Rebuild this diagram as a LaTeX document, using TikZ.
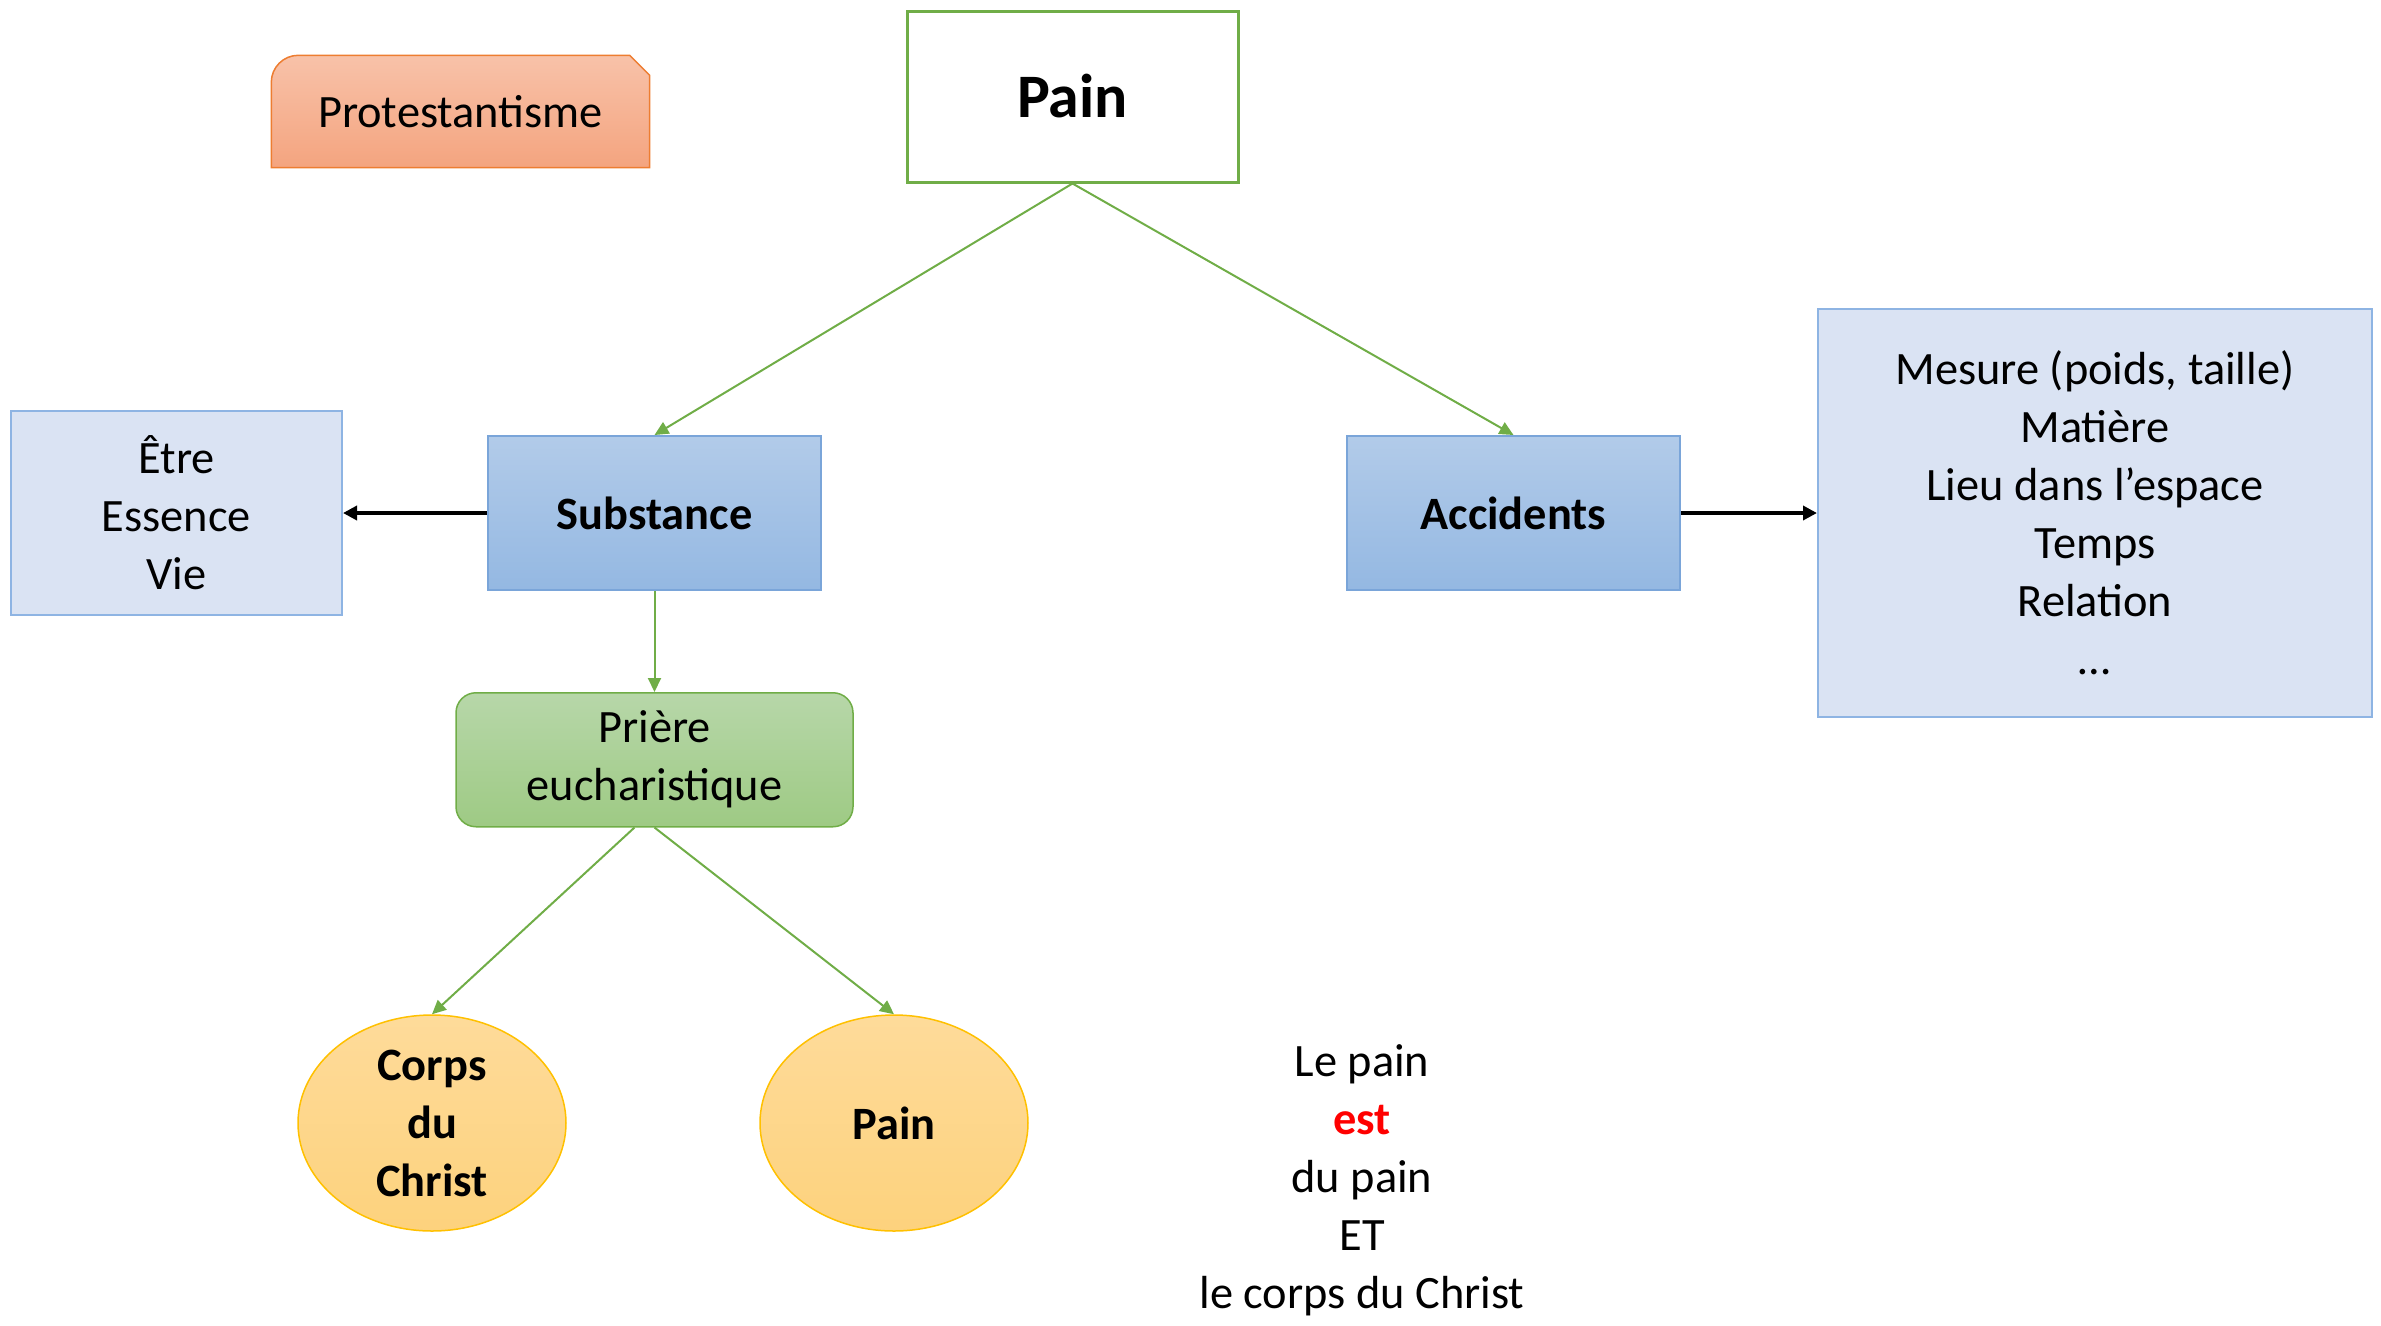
\documentclass[tikz,border=0pt]{standalone}
\usepackage{fontspec}
\setmainfont{Carlito}
\usepackage{xcolor}
\usetikzlibrary{shapes.geometric, arrows.meta, positioning, backgrounds}
\definecolor{leafgreen}{HTML}{70AD47}
\definecolor{mainline}{HTML}{7AA5D9}
\definecolor{maintop}{HTML}{B2CBE9}
\definecolor{mainbottom}{HTML}{94B8E2}
\definecolor{listline}{HTML}{8EB4E3}
\definecolor{listfill}{HTML}{DAE3F3}
\definecolor{prayertop}{HTML}{B7D7A9}
\definecolor{prayerbottom}{HTML}{9ECA84}
\definecolor{goldline}{HTML}{FFC000}
\definecolor{goldtop}{HTML}{FEDB9A}
\definecolor{goldbottom}{HTML}{FDD27D}
\definecolor{tagline}{HTML}{ED7D31}
\definecolor{tagtop}{HTML}{F8C2A9}
\definecolor{tagbottom}{HTML}{F4A47F}
\newcommand{\bodyfont}{\fontsize{13.2}{16.5}\selectfont}
\tikzset{
    breadbox/.style={rectangle, draw=leafgreen, line width=0.3mm, fill=white, minimum width=33.1mm, minimum height=17.1mm, font=\fontsize{17.6}{21}\selectfont\bfseries},
    tag/.style={rectangle, minimum width=37.7mm, minimum height=11.1mm, yshift=-0.6mm},
    tagshape/.style={draw=tagline, line width=0.15mm, top color=tagtop, bottom color=tagbottom},
    mainbox/.style={rectangle, draw=mainline, line width=0.2mm, top color=maintop, bottom color=mainbottom, minimum width=33.3mm, minimum height=15.4mm, font=\bodyfont\bfseries},
    listbox/.style={rectangle, draw=listline, line width=0.2mm, fill=listfill, align=center},
    prayer/.style={rectangle, rounded corners=2mm, draw=leafgreen, line width=0.15mm, top color=prayertop, bottom color=prayerbottom, minimum width=39.7mm, minimum height=13.4mm, align=center},
    outcome/.style={ellipse, draw=goldline, line width=0.15mm, top color=goldtop, bottom color=goldbottom, minimum width=26.8mm, minimum height=21.6mm, inner ysep=-2mm, align=center, font=\bodyfont\bfseries},
    arrow/.style={-{Triangle[length=1.4mm, width=1.3mm]}, draw=leafgreen, line width=0.2mm},
    link/.style={-{Triangle[length=1.4mm, width=1.4mm]}, line width=0.4mm}
}

\begin{document}
\begin{tikzpicture}[x=0.1mm, y=-0.1mm, font=\bodyfont]
    \useasboundingbox (0,0) rectangle (2381,1326);
    \node (bread) [breadbox] at (1072.5,96.5) {Pain};
    \node (prot) [tag] at (460.5,105.5) {Protestantisme};
    \node (subst) [mainbox] at (654.5,513) {Substance};
    \node (acc) [mainbox, right=52.4mm of subst] {Accidents};
    \node (being) [listbox, left=14.4mm of subst, minimum width=33.1mm, minimum height=20.4mm] {Être\\Essence\\Vie};
    \node (traits) [listbox, right=13.6mm of acc, minimum width=55.4mm, minimum height=40.8mm] {Mesure (poids, taille)\\Matière\\Lieu dans l’espace\\Temps\\Relation\\…};
    \node (euch) [prayer, below=10.1mm of subst] {Prière\\eucharistique};
    \node (body) [outcome] at (432,1123) {Corps\\du\\Christ};
    \node (loaf) [outcome] at (894,1123) {Pain};
    \node (claim) [align=center] at (1362,1180) {Le pain\\\textcolor{red}{\textbf{est}}\\du pain\\ET\\le corps du Christ};

    \begin{scope}[on background layer]
        \shadedraw[tagshape] (prot.south west) [rounded corners=2.7mm] -- (prot.north west) [sharp corners] -- ([xshift=-2mm]prot.north east) -- ([yshift=-2mm]prot.north east) -- (prot.south east) -- cycle;
    \end{scope}

    \draw[arrow] (bread.south) -- (subst.north);
    \draw[arrow] (bread.south) -- (acc.north);
    \draw[arrow] (subst) -- (euch);
    \draw[arrow] ([xshift=-2mm]euch.south) -- (body.north);
    \draw[arrow] (euch.south) -- (loaf.north);
    \draw[link] (subst) -- (being);
    \draw[link] (acc) -- (traits);
\end{tikzpicture}
\end{document}
